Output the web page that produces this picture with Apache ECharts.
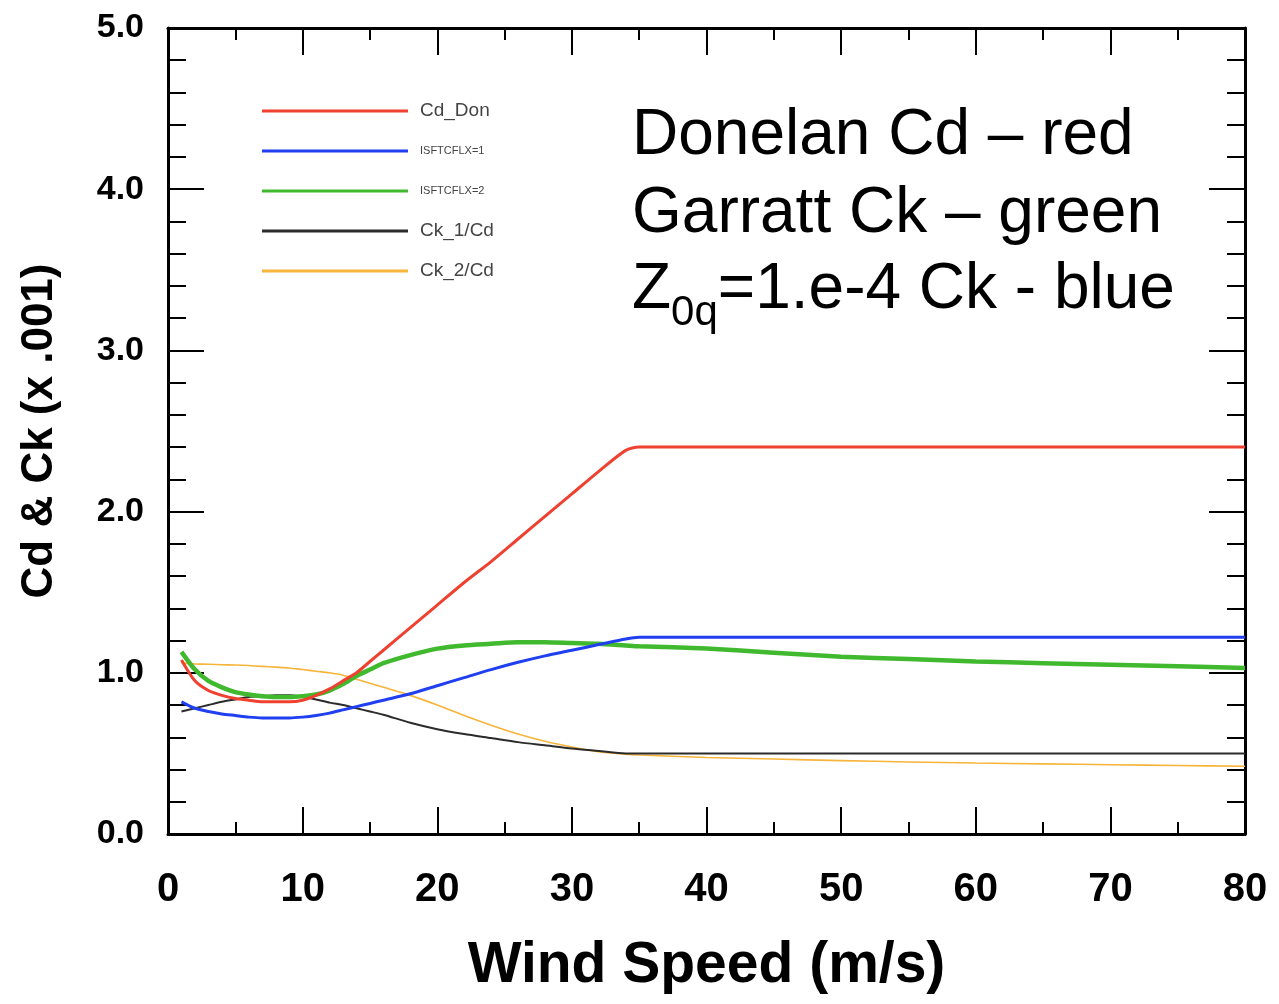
<!DOCTYPE html>
<html style="height: 100%">
<head>
    <meta charset="utf-8">
    <script src="https://cdn.jsdelivr.net/npm/echarts@6/dist/echarts.min.js"></script>
    <title>Cd and Ck vs wind speed</title>
</head>
<body style="height: 100%; margin: 0; background: #fff">
<div id="container" style="width: 1279px; height: 1004px"></div>
<script type="text/javascript">
    // wind speed (m/s)
    let windSpeed = [1, 2, 3, 4, 5, 6, 7, 8, 9, 10, 11, 12, 13, 14, 15, 16, 18, 20, 22, 24, 26, 28, 30, 32, 34, 35,
        40, 45, 50, 55, 60, 65, 70, 75, 80];

    // values in units of .001
    let cdDon = [1.08, 0.95, 0.89, 0.86, 0.84, 0.83, 0.82, 0.82, 0.82, 0.83, 0.86, 0.90, 0.95, 1.00, 1.07, 1.14, 1.28, 1.42,
        1.56, 1.69, 1.83, 1.97, 2.11, 2.25, 2.38, 2.40, 2.40, 2.40, 2.40, 2.40, 2.40, 2.40, 2.40, 2.40, 2.40];
    let isftcflx1 = [0.82, 0.78, 0.76, 0.745, 0.735, 0.725, 0.72, 0.72, 0.72, 0.725, 0.735, 0.75, 0.77, 0.79, 0.81, 0.83,
        0.87, 0.92, 0.97, 1.02, 1.065, 1.105, 1.14, 1.175, 1.21, 1.22, 1.22, 1.22, 1.22, 1.22, 1.22, 1.22, 1.22, 1.22, 1.22];
    let isftcflx2 = [1.13, 1.02, 0.95, 0.91, 0.88, 0.865, 0.855, 0.85, 0.85, 0.855, 0.865, 0.89, 0.93, 0.98, 1.02, 1.06,
        1.11, 1.15, 1.17, 1.18, 1.19, 1.19, 1.185, 1.18, 1.17, 1.165, 1.15, 1.125, 1.10, 1.085, 1.07, 1.06, 1.05, 1.04, 1.03];
    let ck1Cd = [0.76, 0.78, 0.80, 0.82, 0.835, 0.85, 0.855, 0.86, 0.86, 0.85, 0.835, 0.815, 0.80, 0.78, 0.76, 0.74,
        0.69, 0.65, 0.62, 0.595, 0.57, 0.55, 0.53, 0.515, 0.50, 0.50, 0.50, 0.50, 0.50, 0.50, 0.50, 0.50, 0.50, 0.50, 0.50];
    let ck2Cd = [1.06, 1.055, 1.053, 1.05, 1.048, 1.045, 1.04, 1.035, 1.03, 1.02, 1.01, 1.0, 0.985, 0.96, 0.935, 0.91,
        0.86, 0.80, 0.735, 0.675, 0.62, 0.575, 0.54, 0.51, 0.495, 0.49, 0.475, 0.465, 0.455, 0.447, 0.44, 0.435, 0.43, 0.425, 0.42];

    let seriesNames = ['Cd_Don', 'ISFTCFLX=1', 'ISFTCFLX=2', 'Ck_1/Cd', 'Ck_2/Cd'];
    let seriesValues = [cdDon, isftcflx1, isftcflx2, ck1Cd, ck2Cd];
    let colors = ['#ef4130', '#1f3ff0', '#40b92f', '#2b2b2b', '#f7b43a'];
    let widths = [3, 3, 4.5, 2, 1.6];

    let font = 'Liberation Sans';

    function pairs(ys) {
        let out = [];
        for (let i = 0; i < windSpeed.length; i++) {
            out.push([windSpeed[i], ys[i]]);
        }
        return out;
    }

    let series = [];
    for (let i = 0; i < seriesNames.length; i++) {
        series.push({
            name: seriesNames[i],
            type: 'line',
            data: pairs(seriesValues[i]),
            showSymbol: false,
            symbol: 'none',
            smooth: 0.25,
            lineStyle: {color: colors[i], width: widths[i]},
            itemStyle: {color: colors[i]},
            z: 5 - i
        });
    }

    let legendItems = [];
    for (let i = 0; i < seriesNames.length; i++) {
        let small = seriesNames[i].indexOf('ISFTCFLX') === 0;
        legendItems.push({
            name: seriesNames[i],
            icon: 'rect',
            itemStyle: {color: colors[i]},
            textStyle: {
                fontFamily: font, fontSize: small ? 11 : 19, color: '#444', lineHeight: 20,
                padding: [0, 0, 0, 7]
            }
        });
    }

    let xTicks = {
        axisLine: {show: true, onZero: false, lineStyle: {color: '#000', width: 3}},
        axisTick: {show: true, inside: true, length: 27, lineStyle: {color: '#000', width: 2}},
        minorTick: {show: true, splitNumber: 2, length: 12, lineStyle: {color: '#000', width: 2}},
        splitLine: {show: false}
    };
    let yTicks = {
        axisLine: {show: true, onZero: false, lineStyle: {color: '#000', width: 3}},
        axisTick: {show: true, inside: true, length: 36, lineStyle: {color: '#000', width: 2}},
        minorTick: {show: true, splitNumber: 5, length: 18, lineStyle: {color: '#000', width: 2}},
        splitLine: {show: false}
    };

    let chart = echarts.init(document.getElementById('container'));
    chart.setOption({
        animation: false,
        backgroundColor: '#fff',
        grid: {left: 168, top: 28, right: 34, bottom: 170},
        legend: {
            orient: 'vertical',
            left: 257,
            top: 96,
            itemWidth: 146,
            itemHeight: 3,
            itemGap: 20,
            itemTextGap: 12,
            data: legendItems
        },
        xAxis: [
            Object.assign({
                type: 'value', min: 0, max: 80, interval: 10,
                name: 'Wind Speed (m/s)',
                nameLocation: 'middle',
                nameGap: 104,
                nameTextStyle: {fontFamily: font, fontSize: 57, fontWeight: 'bold', color: '#000'},
                axisLabel: {fontFamily: font, fontSize: 40, fontWeight: 'bold', color: '#000', margin: 36}
            }, xTicks),
            Object.assign({
                type: 'value', min: 0, max: 80, interval: 10, position: 'top',
                axisLabel: {show: false}
            }, xTicks)
        ],
        yAxis: [
            Object.assign({
                type: 'value', min: 0, max: 5, interval: 1,
                name: 'Cd & Ck (x .001)',
                nameLocation: 'middle',
                nameGap: 106,
                nameTextStyle: {fontFamily: font, fontSize: 44, fontWeight: 'bold', color: '#000'},
                axisLabel: {
                    fontFamily: font, fontSize: 34, fontWeight: 'bold', color: '#000', margin: 24,
                    formatter: v => v.toFixed(1)
                }
            }, yTicks),
            Object.assign({
                type: 'value', min: 0, max: 5, interval: 1, position: 'right',
                axisLabel: {show: false}
            }, yTicks)
        ],
        graphic: [
            {
                type: 'text', left: 632, top: 104,
                style: {text: 'Donelan Cd \u2013 red', fontFamily: font, fontSize: 64, fill: '#000'}
            },
            {
                type: 'text', left: 632, top: 182,
                style: {text: 'Garratt Ck \u2013 green', fontFamily: font, fontSize: 64, fill: '#000'}
            },
            {
                type: 'text', left: 632, top: 258,
                style: {
                    text: '{a|Z}{s|0q}{a|=1.e-4 Ck - blue}',
                    fontFamily: font,
                    fill: '#000',
                    rich: {
                        a: {fontFamily: font, fontSize: 64, lineHeight: 74, verticalAlign: 'bottom', fill: '#000'},
                        s: {fontFamily: font, fontSize: 42, lineHeight: 42, verticalAlign: 'bottom', padding: [0, 0, -12, 0], fill: '#000'}
                    }
                }
            }
        ],
        series: series
    }, true);
</script>
</body>
</html>
